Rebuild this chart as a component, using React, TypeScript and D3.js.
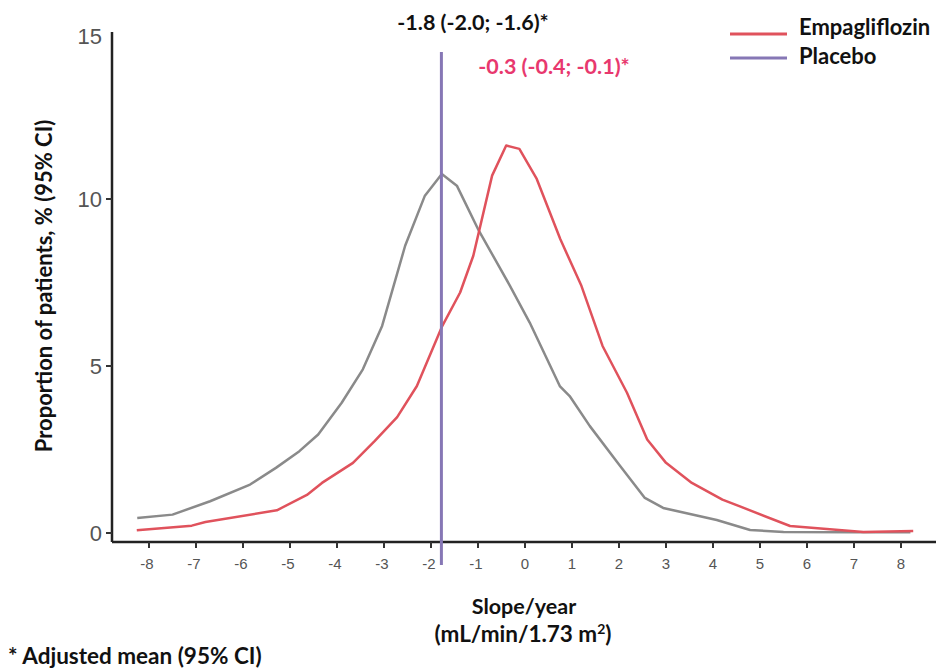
import React from "react";
import * as d3 from "d3";

const placeboX = [-8.25, -7.5, -6.7, -5.85, -5.3, -4.8, -4.4, -3.9, -3.45, -3.04, -2.55, -2.13, -1.77, -1.45, -1.0, -0.32, 0.1, 0.74, 0.95, 1.38, 2.0, 2.55, 2.94, 4.08, 4.79, 5.5, 7.0, 8.2];
const placeboY = [0.45, 0.55, 0.95, 1.45, 1.95, 2.45, 2.95, 3.9, 4.9, 6.2, 8.6, 10.1, 10.75, 10.4, 9.1, 7.4, 6.3, 4.4, 4.1, 3.2, 2.05, 1.05, 0.75, 0.39, 0.09, 0.03, 0.02, 0.02];

const empaX = [-8.26, -7.09, -6.8, -5.28, -4.64, -4.32, -3.66, -3.2, -2.72, -2.3, -1.77, -1.38, -1.1, -0.7, -0.4, -0.12, 0.25, 0.75, 1.2, 1.65, 2.17, 2.6, 3.0, 3.55, 4.2, 4.6, 5.64, 7.2, 8.26];
const empaY = [0.08, 0.22, 0.33, 0.68, 1.14, 1.5, 2.1, 2.75, 3.47, 4.4, 6.17, 7.2, 8.3, 10.7, 11.6, 11.5, 10.6, 8.8, 7.4, 5.6, 4.2, 2.8, 2.1, 1.5, 1.0, 0.78, 0.21, 0.03, 0.06];

const xTicks = [-8, -7, -6, -5, -4, -3, -2, -1, 0, 1, 2, 3, 4, 5, 6, 7, 8];
const yTicks = [0, 5, 10, 15];
const placeboMean = -1.8;

const seriesNames = ["Empagliflozin", "Placebo"];
const placeboLabel = "-1.8 (-2.0; -1.6)*";
const empaLabel = "-0.3 (-0.4; -0.1)*";

const BOLD = "Lato, 'Open Sans', sans-serif";
const TICK = "'Liberation Sans', Arial, sans-serif";

export default function App() {
  const x = d3.scaleLinear().domain([0, 8]).range([525, 901]);
  const y = d3.scaleLinear().domain([0, 15]).range([533, 32]);
  const line = d3
    .line<[number, number]>()
    .x((d) => x(d[0]))
    .y((d) => y(d[1]));
  const pl = placeboX.map((v, i) => [v, placeboY[i]] as [number, number]);
  const em = empaX.map((v, i) => [v, empaY[i]] as [number, number]);
  const axisY = 542;
  const axisX = 112;
  const red = "#e0525c";
  const gray = "#8a8a8a";
  const purple = "#8677b5";

  return (
    <svg width={936} height={668} style={{ position: "absolute", left: 0, top: 0 }}>
      <rect width={936} height={668} fill="#fff" />
      {/* axes */}
      <line x1={axisX} x2={axisX} y1={y(15)} y2={axisY} stroke="#222" strokeWidth={2.5} />
      <line x1={axisX} x2={936} y1={axisY} y2={axisY} stroke="#222" strokeWidth={2.5} />
      {yTicks.map((t) => (
        <g key={"y" + t}>
          {t !== 15 && <line x1={axisX - 6} x2={axisX} y1={y(t)} y2={y(t)} stroke="#333" strokeWidth={2} />}
          <text x={102} y={y(t) + (t === 15 ? 4 : 0)} dy="0.36em" textAnchor="end" fontFamily={TICK} fontSize={22} fill="#555">
            {t}
          </text>
        </g>
      ))}
      {xTicks.map((t) => (
        <g key={"x" + t}>
          <line x1={x(t)} x2={x(t)} y1={axisY} y2={axisY + 6} stroke="#333" strokeWidth={2} />
          <text x={x(t) - (t < 0 ? 2 : 0)} y={564} dy="0.36em" textAnchor="middle" fontFamily={TICK} fontSize={15} fill="#555">
            {t}
          </text>
        </g>
      ))}
      {/* curves */}
      <path d={line(pl) || ""} fill="none" stroke={gray} strokeWidth={2.5} strokeLinejoin="round" />
      <path d={line(em) || ""} fill="none" stroke={red} strokeWidth={2.5} strokeLinejoin="round" />
      {/* mean line */}
      <line x1={x(placeboMean) + 1} x2={x(placeboMean) + 1} y1={52} y2={565} stroke={purple} strokeWidth={3} />
      {/* annotations */}
      <text x={473} y={30} textAnchor="middle" fontFamily={BOLD} fontWeight={700} fontSize={21.5} fill="#111">
        {placeboLabel}
      </text>
      <text x={554} y={74} textAnchor="middle" fontFamily={BOLD} fontWeight={700} fontSize={21.5} fill="#e8386e">
        {empaLabel}
      </text>
      {/* legend */}
      <line x1={730} x2={787} y1={34} y2={34} stroke={red} strokeWidth={3} />
      <line x1={730} x2={787} y1={58} y2={58} stroke={purple} strokeWidth={3} />
      <text x={799} y={35} fontFamily={BOLD} fontWeight={700} fontSize={22} fill="#111">
        {seriesNames[0]}
      </text>
      <text x={799} y={64} fontFamily={BOLD} fontWeight={700} fontSize={22} fill="#111">
        {seriesNames[1]}
      </text>
      {/* axis titles */}
      <text transform="translate(52,286) rotate(-90)" textAnchor="middle" fontFamily={BOLD} fontWeight={700} fontSize={22} fill="#111">
        Proportion of patients, % (95% CI)
      </text>
      <text x={524} y={614} textAnchor="middle" fontFamily={BOLD} fontWeight={700} fontSize={21.5} fill="#111">
        Slope/year
      </text>
      <text x={523} y={642} textAnchor="middle" fontFamily={BOLD} fontWeight={700} fontSize={22.5} fill="#111">
        (mL/min/1.73 m<tspan dy={-8} fontSize={14}>2</tspan><tspan dy={8}>)</tspan>
      </text>
      <text x={8} y={664} fontFamily={BOLD} fontWeight={700} fontSize={22.5} fill="#111">
        * Adjusted mean (95% CI)
      </text>
    </svg>
  );
}
